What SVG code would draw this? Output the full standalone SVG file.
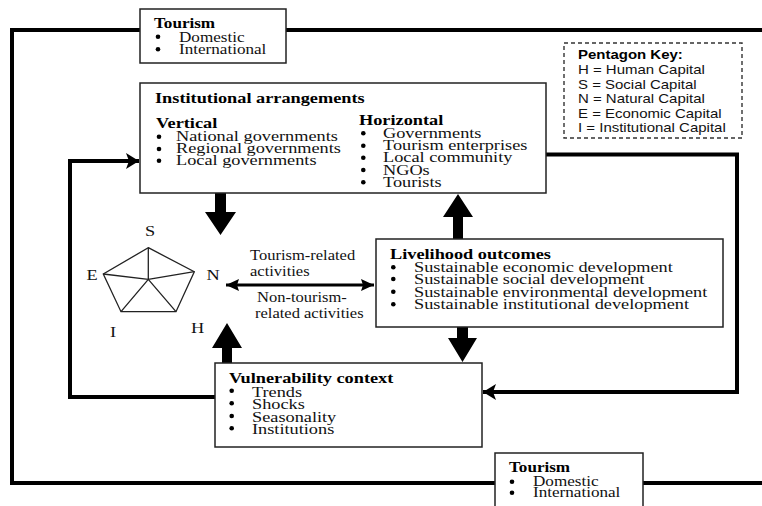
<svg xmlns="http://www.w3.org/2000/svg" width="762" height="506" viewBox="0 0 762 506">
<defs>
<style>
.box{fill:#fff;stroke:#222;stroke-width:1.5}
.key{fill:#fff;stroke:#333;stroke-width:1.4;stroke-dasharray:4 3}
.s{font-family:"Liberation Serif","Times New Roman",serif;font-size:15.5px;fill:#111}
.sb{font-family:"Liberation Serif","Times New Roman",serif;font-size:15.5px;font-weight:bold;fill:#000}
.st{font-family:"Liberation Serif","Times New Roman",serif;font-size:14.5px;fill:#111}
.stb{font-family:"Liberation Serif","Times New Roman",serif;font-size:14.5px;font-weight:bold;fill:#000}
.sl{font-family:"Liberation Serif","Times New Roman",serif;font-size:14px;fill:#111}
.k{font-family:"Liberation Sans",Arial,sans-serif;font-size:12.7px;fill:#111}
.kb{font-family:"Liberation Sans",Arial,sans-serif;font-size:12.7px;font-weight:bold;fill:#000}
.bul{fill:#000}
.ln{fill:none;stroke:#000;stroke-width:4}
.ln2{fill:none;stroke:#000;stroke-width:3}
.blk{fill:#000}
.pent{fill:none;stroke:#222;stroke-width:1.3}
</style>
<marker id="ah" markerUnits="userSpaceOnUse" markerWidth="14" markerHeight="16" refX="13" refY="8" orient="auto">
<path d="M0,0 L13,8 L0,16 L3,8 Z" fill="#000"/>
</marker>
<marker id="dh" markerUnits="userSpaceOnUse" markerWidth="14" markerHeight="12" refX="13" refY="6" orient="auto-start-reverse">
<path d="M0,0 L13,6 L0,12 L2,6 Z" fill="#000"/>
</marker>
</defs>
<rect width="762" height="506" fill="#fff"/>

<g id="connectors">
<path class="ln" d="M140,30 H12 V483 H495"/>
<path class="ln" d="M286,30 H762"/>
<path class="ln" d="M643,483 H762"/>
<path class="ln" d="M215,397 H70 V161 H139" marker-end="url(#ah)"/>
<path class="ln" d="M546,154.5 H737 V392 H483" marker-end="url(#ah)"/>
<path class="ln2" d="M226,285 H374" marker-start="url(#dh)" marker-end="url(#dh)"/>
<polygon class="blk" points="215,193 226,193 226,212 236,212 220.5,235 205,212 215,212"/>
<polygon class="blk" points="222,363 232,363 232,348 242,348 227,323 212,348 222,348"/>
<polygon class="blk" points="453,239 463,239 463,217 473,217 458,194 443,217 453,217"/>
<polygon class="blk" points="457,327 468,327 468,338 477,338 462.5,362 448,338 457,338"/>
</g>

<g id="tourism-top">
<rect class="box" x="140" y="9" width="146" height="54"/>
<text class="stb" transform="translate(154,27.5) scale(1.18,1)">Tourism</text>
<circle class="bul" cx="158" cy="36.7" r="2.3"/>
<circle class="bul" cx="158" cy="49.3" r="2.3"/>
<text class="st" transform="translate(179,0) scale(1.18,1)"><tspan x="0" y="42.5">Domestic</tspan><tspan x="0" y="54">International</tspan></text>
</g>

<g id="pentagon-key">
<rect class="key" x="564" y="43" width="178" height="95"/>
<text class="kb" transform="translate(578,59.3) scale(1.18,1)">Pentagon Key:</text>
<text class="k" transform="translate(578,0) scale(1.18,1)"><tspan x="0" y="74.5">H = Human Capital</tspan><tspan x="0" y="89">S = Social Capital</tspan><tspan x="0" y="103.3">N = Natural Capital</tspan><tspan x="0" y="117.6">E = Economic Capital</tspan><tspan x="0" y="131.8">I = Institutional Capital</tspan></text>
</g>

<g id="institutional">
<rect class="box" x="140" y="83" width="406" height="110"/>
<text class="sb" transform="translate(155,102.5) scale(1.18,1)">Institutional arrangements</text>
<text class="sb" transform="translate(156,127.5) scale(1.18,1)">Vertical</text>
<circle class="bul" cx="159" cy="136.7" r="2.3"/>
<circle class="bul" cx="159" cy="149" r="2.3"/>
<circle class="bul" cx="159" cy="160.7" r="2.3"/>
<text class="s" transform="translate(176,0) scale(1.18,1)"><tspan x="0" y="141.5">National governments</tspan><tspan x="0" y="153.5">Regional governments</tspan><tspan x="0" y="165.5">Local governments</tspan></text>
<text class="sb" transform="translate(359,125) scale(1.18,1)">Horizontal</text>
<circle class="bul" cx="363.3" cy="133.3" r="2.3"/>
<circle class="bul" cx="363.3" cy="145.7" r="2.3"/>
<circle class="bul" cx="363.3" cy="157.7" r="2.3"/>
<circle class="bul" cx="363.3" cy="170" r="2.3"/>
<circle class="bul" cx="363.3" cy="182.3" r="2.3"/>
<text class="s" transform="translate(383,0) scale(1.18,1)"><tspan x="0" y="138.3">Governments</tspan><tspan x="0" y="150.5">Tourism enterprises</tspan><tspan x="0" y="162.4">Local community</tspan><tspan x="0" y="174.8">NGOs</tspan><tspan x="0" y="187">Tourists</tspan></text>
</g>

<g id="pentagon">
<polygon class="pent" points="148.3,247.7 194.3,271.7 176,311.7 121,311.7 103.3,274"/>
<path class="pent" d="M148.3,279.3 L148.3,247.7 M148.3,279.3 L194.3,271.7 M148.3,279.3 L176,311.7 M148.3,279.3 L121,311.7 M148.3,279.3 L103.3,274"/>
<text class="s" text-anchor="middle" transform="translate(150,236) scale(1.18,1)">S</text>
<text class="s" text-anchor="middle" transform="translate(92,279.5) scale(1.18,1)">E</text>
<text class="s" text-anchor="middle" transform="translate(213,279.5) scale(1.18,1)">N</text>
<text class="s" text-anchor="middle" transform="translate(113,337) scale(1.18,1)">I</text>
<text class="s" text-anchor="middle" transform="translate(197.5,332.5) scale(1.18,1)">H</text>
</g>

<g id="activities-labels">
<text class="sl" transform="translate(250,260) scale(1.18,1)">Tourism-related</text>
<text class="sl" transform="translate(250,275.5) scale(1.18,1)">activities</text>
<text class="sl" transform="translate(257,302) scale(1.18,1)">Non-tourism-</text>
<text class="sl" transform="translate(255,318) scale(1.18,1)">related activities</text>
</g>

<g id="livelihood">
<rect class="box" x="376" y="239" width="347" height="88"/>
<text class="sb" transform="translate(390,259) scale(1.18,1)">Livelihood outcomes</text>
<circle class="bul" cx="393.3" cy="267.3" r="2.3"/>
<circle class="bul" cx="393.3" cy="279" r="2.3"/>
<circle class="bul" cx="393.3" cy="291.7" r="2.3"/>
<circle class="bul" cx="393.3" cy="304.3" r="2.3"/>
<text class="s" transform="translate(414,0) scale(1.18,1)"><tspan x="0" y="272">Sustainable economic development</tspan><tspan x="0" y="284">Sustainable social development</tspan><tspan x="0" y="296.7">Sustainable environmental development</tspan><tspan x="0" y="309.3">Sustainable institutional development</tspan></text>
</g>

<g id="vulnerability">
<rect class="box" x="215" y="363" width="267" height="84"/>
<text class="sb" transform="translate(229,383) scale(1.18,1)">Vulnerability context</text>
<circle class="bul" cx="231.7" cy="390.7" r="2.3"/>
<circle class="bul" cx="231.7" cy="403.3" r="2.3"/>
<circle class="bul" cx="231.7" cy="416" r="2.3"/>
<circle class="bul" cx="231.7" cy="428.3" r="2.3"/>
<text class="s" transform="translate(252,0) scale(1.18,1)"><tspan x="0" y="397">Trends</tspan><tspan x="0" y="409.5">Shocks</tspan><tspan x="0" y="422">Seasonality</tspan><tspan x="0" y="434">Institutions</tspan></text>
</g>

<g id="tourism-bottom">
<rect class="box" x="495" y="453" width="148" height="60"/>
<text class="stb" transform="translate(509,472) scale(1.18,1)">Tourism</text>
<circle class="bul" cx="512" cy="481.7" r="2.3"/>
<circle class="bul" cx="512" cy="492.7" r="2.3"/>
<text class="st" transform="translate(533,0) scale(1.18,1)"><tspan x="0" y="486.5">Domestic</tspan><tspan x="0" y="497.5">International</tspan></text>
</g>
</svg>
